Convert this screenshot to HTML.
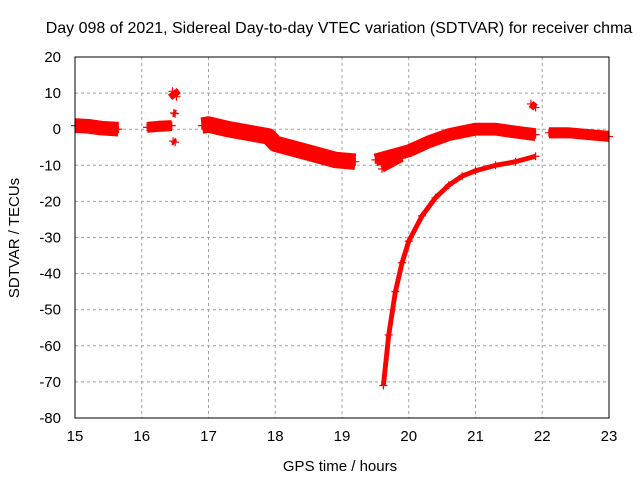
<!DOCTYPE html>
<html><head><meta charset="utf-8"><style>
body{margin:0;background:#fff}
svg{display:block;font-family:"Liberation Sans",sans-serif;font-size:15px}
</style></head><body>
<svg id="chart" width="640" height="480">
<text x="339" y="33" text-anchor="middle" font-size="16">Day 098 of 2021, Sidereal Day-to-day VTEC variation (SDTVAR) for receiver chma</text>
<text x="340" y="471" text-anchor="middle">GPS time / hours</text>
<text transform="translate(19,238) rotate(-90)" text-anchor="middle">SDTVAR / TECUs</text>
<g id="grid"></g><g id="ticks"></g><g id="marks"></g>
<rect x="75" y="57" width="534" height="361" fill="none" stroke="#000" stroke-width="1"/>
</svg>
<script>
const xTicks=[15,16,17,18,19,20,21,22,23];
const yTicks=[20,10,0,-10,-20,-30,-40,-50,-60,-70,-80];
// each series: hours, values, band thickness (TECU)
const segAx=[15.0,15.2,15.4,15.65], segAy=[1,0.8,0.3,0], segAw=3.5;
const segBx=[16.08,16.25,16.45], segBy=[0.5,0.8,1], segBw=2.5;
const blip1x=[16.46,16.52], blip1y=[10.5,9], blip1w=2.5;
const blip2x=[16.48,16.5], blip2y=[4.5,4.3], blip2w=1.5;
const blip3x=[16.47,16.5], blip3y=[-3.3,-3.6], blip3w=1.5;
const segCx=[16.9,17.0,17.3,17.6,17.9,18.0,18.3,18.6,18.9,19.2], segCy=[1,1.3,0,-1,-2,-4,-5.5,-7,-8.5,-9], segCw=4;
const segDx=[19.5,19.7,20.0,20.3,20.6,21.0,21.3,21.6,21.9], segDy=[-8.5,-7.5,-6,-3.5,-1.5,0,0,-0.8,-1.5], segDw=3;
const segD2x=[19.6,19.75,19.9], segD2y=[-11,-9.5,-8], segD2w=1.5;
const segEx=[19.62,19.7,19.8,19.9,20.0,20.2,20.4,20.6,20.8,21.0,21.3,21.6,21.9], segEy=[-71,-57,-45,-37,-31,-24,-19,-15.5,-13,-11.5,-10,-9,-7.5], segEw=0.8;
const blip4x=[21.83,21.9], blip4y=[7,6], blip4w=1.5;
const segFx=[22.1,22.4,22.7,23.0], segFy=[-1,-1,-1.5,-2], segFw=2.5;
const series=[[segAx,segAy,segAw],[segBx,segBy,segBw],[blip1x,blip1y,blip1w],[blip2x,blip2y,blip2w],[blip3x,blip3y,blip3w],[segCx,segCy,segCw],[segDx,segDy,segDw],[segD2x,segD2y,segD2w],[segEx,segEy,segEw],[blip4x,blip4y,blip4w],[segFx,segFy,segFw]];
const X=h=>75+(h-15)*534/8, Y=v=>57+(20-v)*361/100;
const NS="http://www.w3.org/2000/svg";
const grid=document.getElementById('grid'), ticks=document.getElementById('ticks'), marks=document.getElementById('marks');
function mk(t,a,p){const e=document.createElementNS(NS,t);for(const k in a)e.setAttribute(k,a[k]);p.appendChild(e);return e;}
xTicks.forEach(t=>{
 const x=X(t);
 if(t>15&&t<23){const g=mk('line',{x1:x,x2:x,y1:57,y2:418,stroke:'#a0a0a0','stroke-dasharray':'3,3'},grid);
 
 }
 const l=mk('text',{x:x,y:441,'text-anchor':'middle'},ticks);l.textContent=t;
 
 
});
yTicks.forEach(t=>{
 const y=Y(t);
 if(t<20&&t>-80){const g=mk('line',{x1:75,x2:609,y1:y,y2:y,stroke:'#a0a0a0','stroke-dasharray':'3,3'},grid);
 
 }
 const l=mk('text',{x:61,y:y+5,'text-anchor':'end'},ticks);l.textContent=t;
 
 
});
series.forEach(([xs,ys,w],i)=>{
 const pts=xs.map((h,j)=>X(h)+','+Y(ys[j])).join(' ');
 const pl=mk('polyline',{points:pts,fill:'none',stroke:'#ff0000','stroke-width':w*361/100+2,'stroke-linejoin':'round','stroke-linecap':'butt'},marks);
 
 
 xs.forEach((h,j)=>{
  const x=X(h),y=Y(ys[j]);
  const m=mk('path',{d:`M${x-4},${y}h8M${x},${y-4}v8`,stroke:'#ff0000','stroke-width':1.2},marks);
  
  
 });
});
</script>
</body></html>
